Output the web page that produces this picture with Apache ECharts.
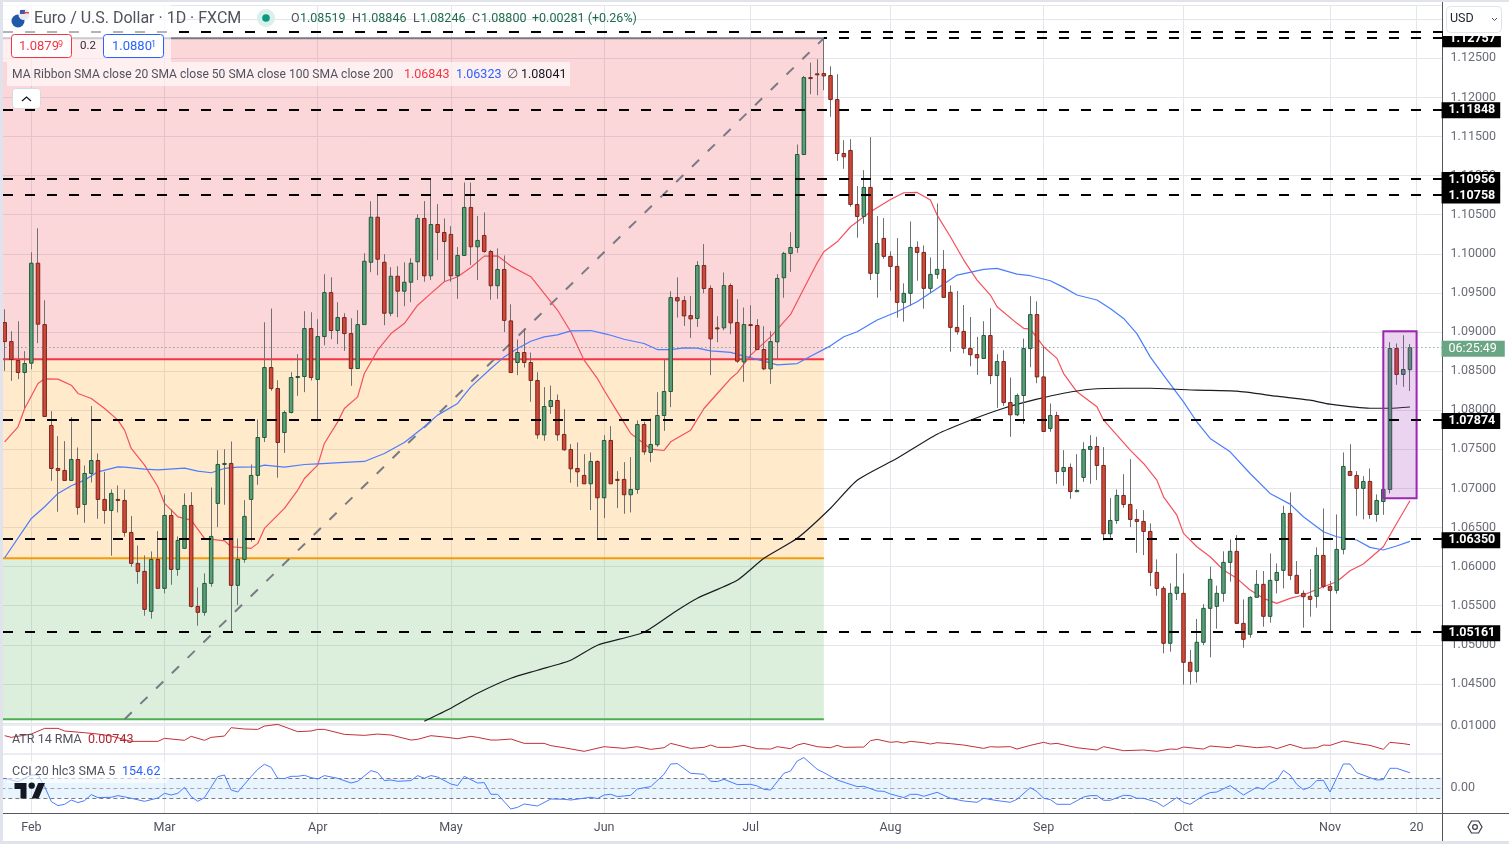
<!DOCTYPE html>
<html>
<head>
<meta charset="utf-8">
<style>
  html, body { margin: 0; padding: 0; background: #fff; overflow: hidden; }
  #chart { width: 1509px; height: 844px; }
</style>
<script src="https://cdn.jsdelivr.net/npm/echarts@6/dist/echarts.min.js"></script>
</head>
<body>
<div id="chart"></div>
<script>
let opens = [
  1.09121,1.08878,1.08635,1.08482,1.08601,1.0988,1.09095,1.07805,1.07255,1.0723,
  1.07102,1.0737,1.06795,1.07191,1.07357,1.06859,1.06718,1.06859,1.06846,1.06437,
  1.06041,1.05939,1.05428,1.06092,1.05722,1.06654,1.05964,1.06233,1.06782,1.05491,
  1.05415,1.05785,1.06808,1.07306,1.07319,1.0576,1.06092,1.06859,1.07166,1.07651,
  1.08546,1.08277,1.07715,1.07971,1.08418,1.08431,1.09044,1.08392,1.08942,1.09504,
  1.09019,1.09185,1.0898,1.08533,1.09095,1.09892,1.10468,1.09892,1.0924,1.09713,
  1.09522,1.09637,1.09898,1.10452,1.09719,1.10375,1.10273,1.10248,1.09719,1.09979,
  1.10593,1.1009,1.10235,1.1003,1.09592,1.098,1.09142,1.0861,1.08738,1.0861,
  1.0838,1.07685,1.08047,1.08124,1.0769,1.07498,1.07255,1.07166,1.07059,1.07345,
  1.0688,1.07613,1.07115,1.07115,1.06919,1.06987,1.07817,1.0746,1.07558,1.07932,
  1.08239,1.0944,1.09402,1.0921,1.09174,1.09851,1.09557,1.09053,1.09053,1.09594,
  1.09121,1.08618,1.09095,1.09083,1.08776,1.08529,1.08874,1.09694,1.10005,1.10081,
  1.1127,1.12254,1.12302,1.12305,1.1228,1.11973,1.11283,1.11322,1.10631,1.10478,
  1.10849,1.0975,1.10197,1.09967,1.09839,1.09379,1.09494,1.10082,1.10018,1.09558,
  1.09737,1.09801,1.09507,1.09059,1.09008,1.08791,1.08712,1.08661,1.08955,1.08443,
  1.08622,1.08098,1.07941,1.08188,1.08788,1.09223,1.08426,1.07766,1.07932,1.07217,
  1.07268,1.06958,1.0714,1.07498,1.07536,1.07293,1.0642,1.0659,1.0691,1.06795,
  1.06603,1.06578,1.0645,1.05926,1.05722,1.05019,1.05658,1.05658,1.04776,1.04661,
  1.05032,1.05466,1.05492,1.05658,1.06054,1.06195,1.05274,1.05134,1.05607,1.05773,
  1.05364,1.05824,1.05952,1.0668,1.05888,1.05658,1.0562,1.0562,1.06143,1.05747,
  1.05696,1.0622,1.07217,1.07166,1.07,1.07089,1.06667,1.06833,1.06987,1.08789,
  1.08457,1.08519,
];
let highs = [
  1.09291,1.0901,1.09138,1.08755,1.1002,1.10327,1.09406,1.07988,1.07668,1.07604,
  1.07911,1.07523,1.07293,1.08052,1.07447,1.07212,1.06987,1.07038,1.06987,1.06646,
  1.06271,1.06143,1.06194,1.06454,1.06914,1.06731,1.06386,1.06936,1.06953,1.05734,
  1.05913,1.07012,1.07489,1.07502,1.076,1.0636,1.0685,1.07306,1.07881,1.09125,
  1.093,1.08384,1.07996,1.08486,1.08716,1.09266,1.09253,1.09164,1.09739,1.097,
  1.09381,1.0924,1.09176,1.09279,1.10008,1.10673,1.10758,1.09995,1.09829,1.09841,
  1.09892,1.09944,1.10507,1.10674,1.10956,1.10635,1.10452,1.10354,1.10086,1.10912,
  1.10912,1.10482,1.10529,1.1005,1.10069,1.09979,1.09355,1.08904,1.09044,1.08738,
  1.08486,1.08295,1.08316,1.08201,1.08013,1.07566,1.07587,1.07438,1.0746,1.07357,
  1.07681,1.07796,1.07221,1.07336,1.074,1.07869,1.07852,1.07894,1.08231,1.08648,
  1.09521,1.09698,1.09459,1.09459,1.09907,1.10124,1.09596,1.09202,1.09762,1.09621,
  1.09419,1.09313,1.09342,1.09164,1.09074,1.0901,1.09741,1.10026,1.10277,1.11398,
  1.12275,1.12446,1.12488,1.12757,1.12399,1.12297,1.11454,1.11466,1.10866,1.1107,
  1.11492,1.10482,1.10457,1.10031,1.10201,1.09622,1.10414,1.10159,1.10107,1.09954,
  1.10644,1.10048,1.09596,1.09524,1.09345,1.09192,1.08938,1.09138,1.09304,1.08716,
  1.08767,1.08418,1.08213,1.08916,1.09457,1.09393,1.08818,1.08086,1.07979,1.07489,
  1.07319,1.07438,1.07591,1.07681,1.0766,1.07528,1.06876,1.06987,1.07182,1.07374,
  1.06735,1.06722,1.06552,1.06092,1.05751,1.05786,1.06169,1.05913,1.04934,1.0533,
  1.05521,1.05999,1.05756,1.06195,1.06348,1.06403,1.05581,1.0562,1.05956,1.05943,
  1.06169,1.06041,1.06778,1.06949,1.06071,1.05696,1.05969,1.06246,1.06744,1.05815,
  1.06667,1.0746,1.07566,1.07221,1.07157,1.07255,1.06923,1.07064,1.0887,1.08853,
  1.08959,1.08846,
];
let lows = [
  1.08503,1.08375,1.08397,1.0803,1.08524,1.08857,1.0792,1.07097,1.06701,1.07102,
  1.07102,1.06663,1.06561,1.07076,1.06612,1.06548,1.06139,1.06693,1.06382,1.05998,
  1.05781,1.05372,1.05334,1.05722,1.05658,1.05768,1.05883,1.06233,1.05479,1.05244,
  1.05372,1.05743,1.06505,1.06791,1.05163,1.05508,1.0605,1.06318,1.07046,1.07592,
  1.08248,1.07136,1.07455,1.07958,1.08184,1.08231,1.0838,1.07873,1.08831,1.08908,
  1.08844,1.08759,1.08312,1.08533,1.09095,1.09765,1.09726,1.09087,1.09202,1.09189,
  1.0933,1.09381,1.09664,1.09643,1.09664,1.0992,1.09643,1.09643,1.09425,1.09979,
  1.09856,1.09664,1.10013,1.09413,1.09425,1.09,1.08482,1.08448,1.08546,1.08107,
  1.07634,1.07609,1.07954,1.07609,1.07481,1.07072,1.07021,1.07059,1.06723,1.06356,
  1.0662,1.07059,1.06748,1.06676,1.06693,1.06931,1.0743,1.07336,1.07532,1.07736,
  1.08039,1.09185,1.09078,1.08925,1.09066,1.09494,1.08448,1.0887,1.09023,1.08972,
  1.08606,1.08363,1.08669,1.08776,1.08512,1.08337,1.08648,1.09438,1.0977,1.10013,
  1.1127,1.12041,1.12028,1.12092,1.11752,1.11189,1.11087,1.10602,1.10205,1.10384,
  1.09664,1.09439,1.09937,1.09528,1.09183,1.09132,1.09336,1.09656,1.09298,1.09494,
  1.09681,1.09443,1.08748,1.08966,1.08727,1.08563,1.08452,1.08661,1.08333,1.0803,
  1.08056,1.0766,1.07924,1.07826,1.0855,1.08345,1.07728,1.07724,1.07059,1.07034,
  1.06867,1.06958,1.07084,1.07059,1.07106,1.06335,1.06343,1.06548,1.06752,1.06505,
  1.06177,1.06147,1.05751,1.05628,1.04891,1.04912,1.05573,1.04491,1.04491,1.04516,
  1.04997,1.0484,1.05206,1.05551,1.05807,1.05274,1.04963,1.05091,1.05607,1.05232,
  1.05283,1.05658,1.05722,1.05828,1.05658,1.05219,1.0536,1.05475,1.05722,1.05164,
  1.05654,1.06156,1.07166,1.0665,1.06604,1.06612,1.06574,1.06663,1.06936,1.08325,
  1.08299,1.08246,
];
let closes = [
  1.08878,1.08648,1.08482,1.08597,1.0988,1.091,1.0792,1.07255,1.0723,1.07102,
  1.0737,1.06757,1.07191,1.07357,1.06859,1.06718,1.06936,1.06855,1.06437,1.06041,
  1.05939,1.05453,1.06092,1.05722,1.06654,1.05964,1.06335,1.06782,1.05491,1.05415,
  1.05785,1.06386,1.07306,1.07319,1.0576,1.06092,1.06642,1.07166,1.07651,1.08546,
  1.08277,1.07587,1.07971,1.08418,1.08431,1.09044,1.08418,1.08942,1.09504,1.09019,
  1.09185,1.0898,1.08533,1.09095,1.09905,1.10468,1.09931,1.0924,1.09713,1.09522,
  1.09637,1.0988,1.10452,1.09719,1.10375,1.10273,1.10158,1.09719,1.09979,1.10593,
  1.1009,1.10171,1.1003,1.09592,1.098,1.09149,1.08482,1.08738,1.0861,1.0838,
  1.07685,1.08047,1.08124,1.07685,1.07494,1.07251,1.07212,1.07059,1.07345,1.0688,
  1.07613,1.07059,1.0711,1.06919,1.06987,1.07817,1.07468,1.07562,1.07932,1.08239,
  1.0944,1.09398,1.09206,1.09168,1.09851,1.09557,1.08912,1.0905,1.09594,1.09117,
  1.08627,1.09095,1.09083,1.08776,1.08529,1.08878,1.09685,1.10005,1.10081,1.1127,
  1.12254,1.1225,1.12298,1.12275,1.11973,1.11283,1.11241,1.10631,1.10478,1.10849,
  1.0975,1.10133,1.09967,1.09839,1.09379,1.09494,1.10082,1.10018,1.09558,1.09737,
  1.09801,1.09443,1.09059,1.09004,1.08791,1.0871,1.08669,1.08955,1.08443,1.08622,
  1.08098,1.07941,1.08188,1.08788,1.09223,1.08426,1.07728,1.07932,1.07217,1.07268,
  1.06961,1.06974,1.07498,1.07536,1.07293,1.0642,1.0659,1.0691,1.06795,1.06603,
  1.06578,1.0645,1.05926,1.05722,1.05019,1.05658,1.05739,1.04776,1.04661,1.05032,
  1.05466,1.05837,1.05658,1.06054,1.06195,1.05274,1.0507,1.05607,1.05773,1.05364,
  1.05824,1.05926,1.0668,1.05888,1.05658,1.05615,1.05581,1.06143,1.05747,1.05696,
  1.0622,1.07281,1.07166,1.07,1.07089,1.06667,1.06846,1.06987,1.08789,1.08457,
  1.08521,1.088,
];

// moving averages as [bar, value]
let sma20 = [
  [0,1.07596],[2,1.07788],[3,1.08022],[5,1.08341],[6,1.08401],[8,1.08397],[10,1.0832],[11,1.08214],
  [13,1.0815],[15,1.08022],[17,1.07873],[18,1.07745],[19,1.07511],[21,1.07298],[23,1.07021],[24,1.06808],
  [26,1.06637],[28,1.06595],[30,1.0636],[33,1.0633],[34,1.06254],[37,1.06233],[38,1.06297],[39,1.06488],
  [42,1.06744],[44,1.06978],[45,1.07127],[47,1.07298],[48,1.07575],[50,1.07851],[51,1.08022],[53,1.08171],
  [54,1.0847],[56,1.08767],[58,1.0898],[60,1.09108],[62,1.09343],[64,1.09494],[66,1.09643],[68,1.09707],
  [70,1.09826],[72,1.09971],[74,1.09975],[76,1.09843],[79,1.09707],[81,1.09494],[83,1.09281],[85,1.09004],
  [87,1.0864],[89,1.08405],[90,1.08256],[92,1.07979],[94,1.07702],[96,1.07575],[97,1.07502],[99,1.07485],
  [100,1.07596],[103,1.07745],[105,1.08022],[107,1.08214],[109,1.08405],[110,1.08478],[112,1.08704],[115,1.08938],
  [118,1.09225],[120,1.09557],[122,1.09886],[123,1.10027],[125,1.10154],[127,1.10346],[128,1.1041],[130,1.10538],
  [133,1.10695],[135,1.10781],[137,1.10785],[139,1.10687],[140,1.10495],[142,1.10218],[144,1.0992],[146,1.09664],
  [148,1.09473],[149,1.09324],[152,1.09111],[153,1.09047],[154,1.09038],[156,1.08812],[158,1.08663],[159,1.08469],
  [161,1.08235],[164,1.08043],[165,1.07873],[167,1.07681],[169,1.07489],[171,1.07319],[173,1.07106],[174,1.06893],
  [176,1.06659],[177,1.06425],[179,1.06254],[181,1.06126],[183,1.05956],[185,1.0585],[187,1.057],[189,1.05594],
  [191,1.0553],[193,1.05594],[195,1.05637],[198,1.05743],[200,1.05807],[202,1.05947],[204,1.06033],[207,1.06254],
  [209,1.06552],[211,1.06843],
];
let sma50 = [
  [0,1.06113],[4,1.06616],[6,1.06765],[8,1.06936],[10,1.07034],[12,1.07106],[14,1.07212],[17,1.07276],
  [18,1.07272],[21,1.07247],[23,1.07238],[27,1.07259],[29,1.07221],[31,1.072],[33,1.07255],[35,1.07272],
  [38,1.07276],[39,1.07298],[42,1.07272],[45,1.07306],[47,1.07315],[51,1.07332],[54,1.07345],[57,1.07447],
  [60,1.07587],[63,1.07788],[65,1.07937],[68,1.08086],[70,1.08299],[73,1.08533],[75,1.08682],[77,1.08789],
  [79,1.08882],[81,1.08938],[83,1.08963],[85,1.09014],[88,1.09019],[90,1.0898],[91,1.08959],[93,1.08908],
  [96,1.08853],[98,1.08776],[100,1.08776],[102,1.08797],[104,1.08793],[106,1.08759],[109,1.0874],[111,1.08691],
  [114,1.08627],[116,1.0858],[119,1.08597],[121,1.08691],[124,1.08823],[126,1.0894],[128,1.09004],[131,1.09153],
  [134,1.0926],[137,1.09387],[140,1.09558],[143,1.09728],[147,1.09801],[149,1.09814],[152,1.09741],[154,1.0972],
  [157,1.09656],[159,1.09571],[161,1.09473],[164,1.09409],[166,1.09302],[168,1.09174],[170,1.0898],[172,1.08682],
  [174,1.0845],[177,1.08107],[179,1.07852],[181,1.07639],[184,1.07468],[187,1.07191],[190,1.06936],[193,1.06799],
  [195,1.06638],[198,1.06446],[200,1.06382],[203,1.0634],[205,1.06246],[207,1.06212],[209,1.06263],[211,1.06323],
];
let sma200 = [
  [63,1.04023],[67,1.04189],[71,1.04381],[76,1.04573],[80,1.04675],[85,1.04803],[89,1.04995],[96,1.05161],
  [101,1.05442],[104,1.05596],[110,1.05826],[114,1.06107],[119,1.06363],[124,1.06747],[128,1.07105],[134,1.07386],
  [140,1.07693],[145,1.07872],[150,1.08025],[155,1.08141],[159,1.08217],[163,1.08268],[168,1.08281],[172,1.08281],
  [179,1.08256],[185,1.08243],[191,1.08179],[196,1.08128],[199,1.08077],[205,1.08025],[208,1.08025],[211,1.08041],
];
let atr = [
  [0,.00865],[1,.00842],[4,.00887],[6,.00964],[8,.00964],[9,.00928],[12,.00905],[14,.00887],[16,.0086],[19,.00788],
  [23,.00788],[24,.00829],[27,.00802],[28,.00856],[30,.00802],[31,.00842],[33,.0086],[34,.00973],[36,.00955],[38,.0095],
  [39,.00995],[41,.01018],[44,.00919],[46,.00928],[47,.0095],[48,.0095],[51,.00883],[54,.00869],[56,.00887],[58,.00874],
  [61,.00806],[62,.00815],[64,.00865],[66,.00847],[68,.00824],[70,.00856],[71,.00842],[73,.00806],[74,.00806],[76,.0082],
  [78,.00761],[81,.00761],[82,.0073],[84,.00702],[87,.00653],[90,.00716],[93,.00693],[95,.00716],[97,.0068],[99,.00702],
  [100,.00761],[103,.00693],[105,.00707],[106,.00738],[107,.00707],[109,.00707],[111,.00734],[113,.00689],[115,.00684],[116,.00716],
  [118,.00689],[119,.00738],[120,.00761],[122,.00716],[124,.00702],[125,.00734],[126,.00707],[129,.00711],[130,.00797],[131,.00815],
  [133,.00775],[134,.00784],[135,.00766],[136,.00788],[138,.0077],[139,.00752],[140,.0077],[142,.00757],[144,.00738],[147,.00693],
  [148,.00716],[149,.00711],[151,.00716],[152,.00684],[154,.00734],[156,.00775],[157,.00752],[158,.00761],[161,.00702],[164,.00671],
  [165,.00716],[168,.00662],[171,.00671],[173,.00653],[175,.00684],[176,.0068],[177,.00711],[180,.00684],[181,.00725],[184,.00702],
  [185,.00734],[188,.00702],[190,.00716],[191,.00689],[193,.00747],[195,.00693],[197,.00702],[198,.00738],[199,.00734],[201,.00793],
  [203,.00761],[205,.00734],[207,.0068],[208,.00775],[210,.00757],[211,.00743],
];
let cci = [
  [0,100],[2,67],[4,133],[5,133],[6,17],[7,-133],[8,-173],[9,-160],[10,-117],[11,-143],[12,-123],[13,-63],[14,-93],[16,-90],
  [17,-73],[19,-100],[21,-130],[23,-97],[24,-50],[25,-67],[26,-50],[27,10],[28,-83],[29,-130],[30,-93],[32,117],[33,133],
  [34,-17],[35,-37],[37,117],[38,190],[39,240],[40,210],[41,100],[42,97],[43,120],[44,120],[45,130],[46,107],[47,93],[48,127],
  [50,100],[52,53],[53,70],[55,177],[56,157],[57,77],[58,83],[59,70],[61,77],[62,127],[63,100],[64,127],[65,113],[67,43],
  [68,27],[69,120],[71,53],[72,57],[73,-60],[74,-60],[76,-207],[77,-190],[78,-157],[80,-177],[82,-107],[84,-110],[85,-117],
  [88,-90],[89,-103],[90,-67],[91,-60],[92,-83],[94,-70],[95,-7],[97,17],[99,140],[100,243],[101,247],[103,150],[105,140],
  [106,70],[107,67],[108,90],[110,37],[112,40],[113,23],[114,-10],[115,-17],[117,150],[118,173],[119,273],[120,307],[122,190],
  [123,157],[125,83],[128,17],[129,20],[131,-27],[132,-30],[133,-57],[135,-93],[136,-60],[137,-60],[138,-80],[140,-40],[142,-100],
  [144,-127],[146,-140],[147,-100],[149,-123],[151,-140],[152,-110],[154,7],[155,-33],[156,-100],[157,-113],[158,-160],[160,-160],
  [162,-87],[163,-73],[164,-73],[165,-120],[166,-120],[168,-70],[169,-73],[170,-100],[171,-100],[173,-140],[174,-183],[176,-93],
  [177,-140],[178,-160],[180,-73],[181,-43],[182,-37],[184,27],[186,-67],[188,10],[189,-10],[190,50],[191,80],[192,180],[193,133],
  [194,40],[195,-13],[196,10],[197,77],[198,80],[199,-37],[201,243],[202,243],[203,157],[205,107],[206,83],[207,87],[208,200],
  [209,200],[211,155],
];

let levels = [1.11848, 1.10956, 1.10758, 1.07874, 1.0635, 1.05161];
let fibHigh = 1.12757;
let fibMid = 1.08652;
let fibOrange = 1.06107;
let fibLow = 1.04048;
let topLine = 1.12834;
let lastPrice = 1.088;
let tickBars = [4, 24, 47, 67, 90, 112, 133, 156, 177, 199, 212];
let tickLabels = ["Feb", "Mar", "Apr", "May", "Jun", "Jul", "Aug", "Sep", "Oct", "Nov", "20"];

// weekdays from the first bar, with a few empty ones on the right
let categories = [];
let day = new Date(Date.UTC(2023, 0, 26));
while (categories.length < 217) {
  if (day.getUTCDay() !== 0 && day.getUTCDay() !== 6) categories.push(day.toISOString().slice(0, 10));
  day = new Date(day.getTime() + 86400000);
}
let tickNames = {};
tickBars.forEach((b, i) => { tickNames[categories[b]] = tickLabels[i]; });
let isTick = (index) => tickBars.indexOf(index) >= 0;

let font = "Roboto";
let gridColor = "#e4e6ec";
let axisGray = "#6a6d78";
let candles = opens.map((o, i) => [i, o, highs[i], lows[i], closes[i]]);

function renderCandle(params, api) {
  let bar = api.value(0);
  let open = api.value(1);
  let close = api.value(4);
  let x = api.coord([bar, open])[0];
  let yOpen = api.coord([bar, open])[1];
  let yHigh = api.coord([bar, api.value(2)])[1];
  let yLow = api.coord([bar, api.value(3)])[1];
  let yClose = api.coord([bar, close])[1];
  let up = close >= open;
  let wickX = Math.round(x - 0.5) + 0.5;
  let top = Math.min(yOpen, yClose);
  let height = Math.max(Math.abs(yOpen - yClose), 1);
  return {
    type: "group",
    children: [
      { type: "line", shape: { x1: wickX, y1: yHigh, x2: wickX, y2: yLow }, style: { stroke: "#6e7072", lineWidth: 1 } },
      {
        type: "rect",
        shape: { x: x - 1.75, y: top, width: 3.5, height: height },
        style: up ? { fill: "#5b9e78", stroke: "#1f5a3c", lineWidth: 1 } : { fill: "#cf4a38", stroke: "#7b231c", lineWidth: 1 },
      },
    ],
  };
}

let xAxisBase = (gridIndex) => ({
  type: "category",
  gridIndex: gridIndex,
  data: categories,
  axisLine: { show: false },
  axisTick: { show: false },
  axisLabel: { show: false },
  splitLine: { show: true, alignWithLabel: true, interval: (index) => isTick(index), lineStyle: { color: gridColor, width: 1 } },
});

let priceLabel = (v) => (v === 1.04 || v >= 1.13 ? "" : v.toFixed(5));

let dash = { type: [10, 12], width: 2, color: "#000", dashOffset: 20.37 };
let tag = {
  show: true,
  position: "end",
  distance: -5,
  offset: [0, 1],
  color: "#fff",
  fontFamily: font,
  fontSize: 12.5,
  fontWeight: "bold",
  backgroundColor: "#000",
  padding: [2, 5, 1, 7],
};

// a fib level line: from the left edge of the pane to the swing high's bar
let fibLine = (v, color) => [
  { yAxis: v, itemStyle: { color: "rgba(0,0,0,0)", borderColor: color, borderWidth: 2 } },
  { xAxis: 123, yAxis: v },
];

let text = (x, y, s, color, size, z, extra) => ({
  type: "text",
  z: z || 30,
  style: Object.assign({ x: x, y: y, text: s, fill: color, font: (size || 13) + "px " + font, verticalAlign: "middle" }, extra || {}),
});
let box = (x, y, w, h, fill, z, stroke, r) => ({
  type: "rect",
  z: z || 30,
  shape: { x: x, y: y, width: w, height: h, r: r || 0 },
  style: { fill: fill, stroke: stroke || null, lineWidth: 1 },
});
let rule = (x1, y1, x2, y2, color, w, z) => ({
  type: "line",
  z: z || 4,
  shape: { x1: x1, y1: y1, x2: x2, y2: y2 },
  style: { stroke: color, lineWidth: w || 1 },
});

let graphics = [
  // price scale column, hides the grids past the axis line
  box(1442, 0, 67, 844, "#fff", 3),
  rule(1442.5, 2, 1442.5, 841, "#55585f", 1, 4),
  rule(3, 813.5, 1509, 813.5, "#55585f", 1, 4),
  rule(3, 725, 1442, 725, gridColor, 1.5, 1),
  rule(3, 754, 1442, 754, gridColor, 1.5, 1),
  // window frame
  box(0, 0, 1509, 2, "#e0e3eb", 40),
  box(0, 0, 3, 844, "#e0e3eb", 40),
  box(0, 841, 1509, 3, "#e0e3eb", 40),
  // USD selector, sits over the top tag
  box(1443, 2, 66, 34, "#fff", 20),
  box(1446.5, 6.5, 55, 26, "#fff", 21, "#e0e3eb", 4),
  text(1450, 19, "USD", "#1e222d", 12.5, 22),
  { type: "polyline", z: 22, shape: { points: [[1492, 18], [1494.5, 20.5], [1497, 18]] }, style: { stroke: "#50535e", fill: null, lineWidth: 1 } },
  // header
  box(3, 2, 168, 32, "rgba(255,255,255,.7)", 25),
  { type: "circle", z: 30, shape: { cx: 18, cy: 21, r: 6.5 }, style: { fill: "#2059a8" } },
  { type: "circle", z: 31, shape: { cx: 24, cy: 14.5, r: 5.5 }, style: { fill: "#e9e9f2" } },
  { type: "rect", z: 32, shape: { x: 20, y: 10, width: 5, height: 4 }, style: { fill: "#3b5ba5" } },
  { type: "rect", z: 32, shape: { x: 24, y: 12, width: 5, height: 1.4 }, style: { fill: "#e0413c" } },
  text(34, 18.5, "Euro / U.S. Dollar · 1D · FXCM", "#50535e", 16),
  { type: "circle", z: 30, shape: { cx: 266, cy: 18, r: 9 }, style: { fill: "#d8f0ea" } },
  { type: "circle", z: 31, shape: { cx: 266, cy: 18, r: 3.8 }, style: { fill: "#089981" } },
  text(291, 18.5, "O", "#50535e", 12.5),
  text(300, 18.5, "1.08519", "#1e6b4a", 12.5),
  text(352, 18.5, "H", "#50535e", 12.5),
  text(361, 18.5, "1.08846", "#1e6b4a", 12.5),
  text(413, 18.5, "L", "#50535e", 12.5),
  text(420, 18.5, "1.08246", "#1e6b4a", 12.5),
  text(472, 18.5, "C", "#50535e", 12.5),
  text(481, 18.5, "1.08800", "#1e6b4a", 12.5),
  text(532, 18.5, "+0.00281 (+0.26%)", "#1e6b4a", 12.5),
  box(3, 34, 168, 28, "rgba(255,255,255,.6)", 25),
  box(11.5, 34.5, 60, 23, "#fff", 30, "#f23645", 3),
  text(19, 46.5, "1.0879", "#f23645", 13, 31),
  text(58, 45, "9", "#f23645", 9, 31),
  text(80, 46, "0.2", "#2a2e39", 11.5, 31),
  box(103.5, 34.5, 60, 23, "#fff", 30, "#2962ff", 3),
  text(112, 46.5, "1.0880", "#2962ff", 13, 31),
  text(151, 45, "1", "#2962ff", 9, 31),
  box(7, 62, 563, 24, "rgba(255,255,255,.6)", 25),
  text(12, 74.5, "MA Ribbon SMA close 20 SMA close 50 SMA close 100 SMA close 200", "#50535e", 12.1),
  text(404, 74.5, "1.06843", "#f23645", 12.5),
  text(456, 74.5, "1.06323", "#2962ff", 12.5),
  text(507, 74.5, "∅", "#50535e", 12.5),
  text(521, 74.5, "1.08041", "#131722", 12.5),
  box(12.5, 88.5, 28, 20, "#fff", 30, "#d6d9e2", 3),
  { type: "polyline", z: 31, shape: { points: [[22, 101], [26.5, 97], [31, 101]] }, style: { stroke: "#131722", fill: null, lineWidth: 1.3 } },
  // indicator legends
  text(12, 740, "ATR 14 RMA", "#50535e", 12.5),
  text(88, 740, "0.00743", "#b22833", 12.5),
  box(7, 761, 160, 22, "rgba(255,255,255,.6)", 25),
  text(12, 772, "CCI 20 hlc3 SMA 5", "#50535e", 12.5),
  text(122, 772, "154.62", "#2962ff", 12.5),
  // logo
  { type: "polygon", z: 30, shape: { points: [[14.5, 783], [26.5, 783], [26.5, 798.5], [20.5, 798.5], [20.5, 789], [14.5, 789]] }, style: { fill: "#131722" } },
  { type: "polygon", z: 30, shape: { points: [[38.6, 798.5], [31.7, 798.5], [38.2, 783], [45, 783]] }, style: { fill: "#131722" } },
  { type: "circle", z: 30, shape: { cx: 31.7, cy: 785.6, r: 3.2 }, style: { fill: "#131722" } },
  // settings button
  { type: "polygon", z: 30, shape: { points: [[1468, 827], [1471.5, 821], [1478.5, 821], [1482, 827], [1478.5, 833], [1471.5, 833]] }, style: { stroke: "#3a3d46", fill: null, lineWidth: 1.2 } },
  { type: "circle", z: 30, shape: { cx: 1475, cy: 827, r: 2.4 }, style: { stroke: "#3a3d46", fill: null, lineWidth: 1.2 } },
];

let chart = echarts.init(document.getElementById("chart"));
chart.setOption({
  animation: false,
  backgroundColor: "#fff",
  textStyle: { fontFamily: font },
  grid: [
    { left: 1.37, width: 1445.2, top: 5, height: 718 },
    { left: 1.37, width: 1445.2, top: 724, height: 30 },
    { left: 1.37, width: 1445.2, top: 754, height: 59 },
  ],
  xAxis: [
    xAxisBase(0),
    xAxisBase(1),
    Object.assign(xAxisBase(2), {
      axisLabel: {
        show: true,
        interval: (index) => isTick(index),
        formatter: (v) => tickNames[v] || "",
        color: "#50535e",
        fontFamily: font,
        fontSize: 12.5,
        margin: 8,
      },
    }),
  ],
  yAxis: [
    {
      type: "value",
      gridIndex: 0,
      position: "right",
      min: 1.04,
      max: 1.13182,
      interval: 0.005,
      axisLine: { show: false },
      axisTick: { show: false },
      axisLabel: { show: false },
      splitLine: { show: true, lineStyle: { color: gridColor, width: 1 } },
    },
    {
      type: "value",
      gridIndex: 0,
      position: "right",
      z: 10,
      min: 1.04,
      max: 1.13182,
      interval: 0.005,
      axisLine: { show: false },
      axisTick: { show: false },
      axisLabel: { margin: 4, color: axisGray, fontFamily: font, fontSize: 12.5, padding: [4, 0, 0, 0], formatter: priceLabel },
      splitLine: { show: false },
    },
    {
      type: "value",
      gridIndex: 1,
      position: "right",
      z: 10,
      min: 0.00617,
      max: 0.01023,
      axisLine: { show: false },
      axisTick: { show: false },
      axisLabel: { margin: 4, color: axisGray, fontFamily: font, fontSize: 12.5, customValues: [0.01], formatter: (v) => v.toFixed(5) },
      splitLine: { show: false },
    },
    {
      type: "value",
      gridIndex: 2,
      position: "right",
      z: 10,
      min: -247,
      max: 343,
      axisLine: { show: false },
      axisTick: { show: false },
      axisLabel: { margin: 4, color: axisGray, fontFamily: font, fontSize: 12.5, customValues: [0], formatter: (v) => v.toFixed(2) },
      splitLine: { show: false },
    },
  ],
  graphic: { elements: graphics },
  series: [
    {
      name: "Fibonacci",
      type: "line",
      z: 1,
      data: [],
      symbol: "none",
      markArea: {
        silent: true,
        z: 1,
        data: [
          [{ yAxis: fibHigh, itemStyle: { color: "rgba(242,54,69,.2)" } }, { xAxis: 123, yAxis: fibMid }],
          [{ yAxis: fibMid, itemStyle: { color: "rgba(255,152,0,.2)" } }, { xAxis: 123, yAxis: fibOrange }],
          [{ yAxis: fibOrange, itemStyle: { color: "rgba(76,175,80,.2)" } }, { xAxis: 123, yAxis: fibLow }],
          fibLine(fibHigh, "#787b86"),
          fibLine(fibMid, "#f23645"),
          fibLine(fibOrange, "#ff9800"),
          fibLine(fibLow, "#4caf50"),
        ],
      },
      markLine: {
        silent: true,
        z: 1,
        symbol: "none",
        precision: 5,
        label: { show: false },
        data: [[{ coord: [18, fibLow], lineStyle: { color: "#787b86", width: 2, type: [10, 12] } }, { coord: [123, fibHigh] }]],
      },
    },
    { name: "SMA 20", type: "line", z: 2, data: sma20, symbol: "none", lineStyle: { color: "#f5505c", width: 1.2 } },
    { name: "SMA 50", type: "line", z: 2, data: sma50, symbol: "none", lineStyle: { color: "#4a7dff", width: 1.2 } },
    { name: "SMA 200", type: "line", z: 2, data: sma200, symbol: "none", smooth: 0.2, lineStyle: { color: "#1a1c22", width: 1.2 } },
    {
      name: "EUR/USD",
      type: "custom",
      z: 3,
      clip: true,
      data: candles,
      encode: { x: 0, y: [1, 2, 3, 4] },
      renderItem: renderCandle,
    },
    {
      name: "Highlight",
      type: "line",
      z: 4,
      data: [],
      symbol: "none",
      markArea: {
        silent: true,
        z: 4,
        itemStyle: { color: "rgba(156,39,176,.2)", borderColor: "#9c27b0", borderWidth: 2 },
        data: [[{ xAxis: 207, yAxis: 1.0901 }, { xAxis: 212, yAxis: 1.06875 }]],
      },
    },
    {
      name: "Levels",
      type: "line",
      z: 12,
      data: [],
      symbol: "none",
      markLine: {
        silent: true,
        z: 12,
        symbol: "none",
        precision: 5,
        lineStyle: dash,
        label: tag,
        data: [
          { yAxis: topLine, label: { show: false } },
          [
            { xAxis: 123, yAxis: fibHigh, lineStyle: Object.assign({}, dash, { dashOffset: 6.9 }), label: { formatter: fibHigh.toFixed(5), distance: -1 } },
            { xAxis: 216, yAxis: fibHigh },
          ],
        ]
          .concat(levels.map((v) => ({ yAxis: v, label: { formatter: v.toFixed(5) } })))
          .concat([
            {
              yAxis: lastPrice,
              lineStyle: { type: [1, 3], width: 1, color: "#4f8a69", dashOffset: 0 },
              label: { formatter: "06:25:49", backgroundColor: "#6aa584", fontWeight: "normal", padding: [2, 8, 1, 7] },
            },
          ]),
      },
    },
    { name: "ATR", type: "line", xAxisIndex: 1, yAxisIndex: 2, z: 2, data: atr, symbol: "none", lineStyle: { color: "#c2303a", width: 1 } },
    {
      name: "CCI",
      type: "line",
      xAxisIndex: 2,
      yAxisIndex: 3,
      z: 2,
      data: cci,
      symbol: "none",
      lineStyle: { color: "#4a7dff", width: 1 },
      markArea: {
        silent: true,
        z: 1,
        itemStyle: { color: "rgba(33,150,243,.1)" },
        data: [[{ yAxis: 100 }, { yAxis: -100 }]],
      },
      markLine: {
        silent: true,
        z: 2,
        symbol: "none",
        label: { show: false },
        lineStyle: { color: "#787b86", type: [4, 3], width: 1 },
        data: [{ yAxis: 100 }, { yAxis: 0, lineStyle: { color: "#a3a6af" } }, { yAxis: -100 }],
      },
    },
  ],
});
</script>
</body>
</html>
